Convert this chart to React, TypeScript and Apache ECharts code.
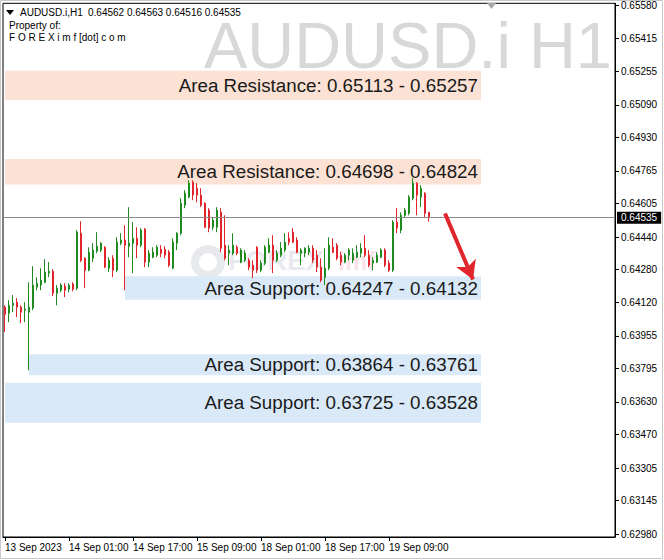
import React, { useEffect, useRef } from 'react';
import * as echarts from 'echarts';

// ---- data ----
const symbolTitle = 'AUDUSD.i,H1';
const watermark = 'AUDUSD.i H1';
const lastOHLC = [0.64562, 0.64563, 0.64516, 0.64535];
const lastPrice = 0.64535;

const xTickLabels = ['13 Sep 2023', '14 Sep 01:00', '14 Sep 17:00', '15 Sep 09:00', '18 Sep 01:00', '18 Sep 17:00', '19 Sep 09:00'];
const barsPerTick = 16;
const totalSlots = 153;

const yTickValues = [0.6558, 0.65415, 0.65255, 0.6509, 0.6493, 0.64765, 0.64605, 0.6444, 0.6428, 0.6412, 0.63955, 0.63795, 0.6363, 0.6347, 0.63305, 0.63145, 0.6298];

// [open, close, low, high] hourly, from 13 Sep 09:00
const candles = [
  [0.64096, 0.64061, 0.63973, 0.64105], [0.64066, 0.64105, 0.64022, 0.6413], [0.64105, 0.64115, 0.64071, 0.64155],
  [0.6412, 0.64096, 0.64047, 0.6414], [0.64096, 0.64071, 0.64017, 0.64105], [0.64081, 0.64086, 0.64022, 0.6412],
  [0.64071, 0.64096, 0.63786, 0.64218], [0.64091, 0.64204, 0.64081, 0.64297], [0.64194, 0.64213, 0.64179, 0.64243],
  [0.64204, 0.64228, 0.64179, 0.64287], [0.64218, 0.64268, 0.64213, 0.64331], [0.64263, 0.64272, 0.64243, 0.64317],
  [0.64272, 0.64164, 0.6415, 0.64282], [0.64164, 0.64189, 0.64105, 0.64204], [0.64179, 0.64204, 0.64169, 0.64213],
  [0.64199, 0.64179, 0.64145, 0.64213], [0.64184, 0.64204, 0.64169, 0.64213], [0.64209, 0.64184, 0.64174, 0.64218],
  [0.64189, 0.64464, 0.64179, 0.64474], [0.64459, 0.64326, 0.64317, 0.64518], [0.64336, 0.64277, 0.64189, 0.64341],
  [0.64277, 0.64366, 0.64272, 0.6439], [0.64336, 0.64376, 0.64317, 0.6441], [0.64371, 0.64395, 0.64361, 0.64464],
  [0.64376, 0.6441, 0.64366, 0.64415], [0.6439, 0.64292, 0.64287, 0.64395], [0.64287, 0.64326, 0.64268, 0.64341],
  [0.64336, 0.64277, 0.64243, 0.64351], [0.64277, 0.64415, 0.64268, 0.64439], [0.6441, 0.64425, 0.644, 0.64459],
  [0.64425, 0.644, 0.64179, 0.64498], [0.64395, 0.6441, 0.64341, 0.64587], [0.6441, 0.64434, 0.64263, 0.64513],
  [0.64434, 0.644, 0.64336, 0.64488], [0.644, 0.64474, 0.6439, 0.64484], [0.64479, 0.64317, 0.64292, 0.64484],
  [0.64317, 0.64361, 0.64292, 0.64376], [0.64341, 0.64366, 0.64336, 0.6439], [0.64351, 0.6439, 0.64341, 0.644],
  [0.6438, 0.64361, 0.64341, 0.644], [0.6438, 0.64351, 0.64336, 0.64395], [0.64366, 0.64302, 0.64292, 0.64376],
  [0.64287, 0.64415, 0.64282, 0.64434], [0.6441, 0.64459, 0.64376, 0.64464], [0.64459, 0.64606, 0.64449, 0.64631],
  [0.64596, 0.64655, 0.64582, 0.6467], [0.64636, 0.64705, 0.64631, 0.64719], [0.64709, 0.64646, 0.64621, 0.64719],
  [0.6468, 0.64646, 0.64611, 0.64705], [0.64646, 0.64596, 0.64587, 0.6468], [0.64606, 0.64488, 0.64484, 0.64611],
  [0.64572, 0.64484, 0.64464, 0.64582], [0.64488, 0.64523, 0.64474, 0.64538], [0.64488, 0.64572, 0.64464, 0.64587],
  [0.64562, 0.64385, 0.64366, 0.64582], [0.644, 0.64336, 0.64326, 0.64547], [0.64361, 0.64376, 0.64302, 0.644],
  [0.64361, 0.644, 0.64351, 0.64459], [0.6439, 0.64361, 0.64351, 0.644], [0.64317, 0.64376, 0.64312, 0.64385],
  [0.64326, 0.64361, 0.64317, 0.64376], [0.64326, 0.64292, 0.64277, 0.64336], [0.64302, 0.64277, 0.64238, 0.64326],
  [0.6439, 0.64277, 0.64263, 0.64395], [0.64277, 0.64312, 0.64268, 0.64326], [0.64312, 0.6439, 0.64302, 0.644],
  [0.64366, 0.644, 0.64361, 0.64434], [0.644, 0.64326, 0.64263, 0.64449], [0.64326, 0.64361, 0.64317, 0.64376],
  [0.64351, 0.64385, 0.64341, 0.64415], [0.64376, 0.64415, 0.64366, 0.64459], [0.64434, 0.64415, 0.644, 0.64464],
  [0.64464, 0.64415, 0.6441, 0.64484], [0.64425, 0.64366, 0.64361, 0.64439], [0.64361, 0.64376, 0.64302, 0.64385],
  [0.64361, 0.64385, 0.64341, 0.6439], [0.64366, 0.64385, 0.64351, 0.644], [0.64385, 0.64326, 0.64312, 0.644],
  [0.64351, 0.64292, 0.64268, 0.64376], [0.64292, 0.64228, 0.64218, 0.64336], [0.64243, 0.64287, 0.64204, 0.64385],
  [0.64287, 0.644, 0.64277, 0.64439], [0.6439, 0.64366, 0.64361, 0.64434], [0.644, 0.64336, 0.64326, 0.6441],
  [0.64351, 0.64317, 0.64302, 0.64366], [0.64317, 0.64351, 0.64312, 0.64361], [0.64351, 0.64376, 0.64326, 0.64385],
  [0.64326, 0.64361, 0.64312, 0.64385], [0.64341, 0.64366, 0.64336, 0.644], [0.64361, 0.64385, 0.64341, 0.6441],
  [0.64385, 0.64351, 0.64341, 0.64449], [0.64351, 0.64302, 0.64292, 0.64376], [0.64312, 0.64326, 0.64277, 0.64341],
  [0.64317, 0.64351, 0.64312, 0.64366], [0.64341, 0.64376, 0.64336, 0.64385], [0.64376, 0.64302, 0.64292, 0.64385],
  [0.64312, 0.64277, 0.64268, 0.64326], [0.64277, 0.64513, 0.64268, 0.64523], [0.64513, 0.64484, 0.64459, 0.64582],
  [0.64474, 0.64547, 0.64459, 0.64562], [0.64547, 0.64572, 0.64538, 0.64582], [0.64557, 0.64636, 0.64547, 0.64646],
  [0.64631, 0.64705, 0.64621, 0.64729], [0.64705, 0.64646, 0.64547, 0.64709], [0.64636, 0.6468, 0.64587, 0.64695],
  [0.64655, 0.64557, 0.64533, 0.6466], [0.64562, 0.64535, 0.64516, 0.64563],
];

// zones
const zoneLabels = ['Area Resistance', 'Area Resistance', 'Area Support', 'Area Support', 'Area Support'];
const zoneA = [0.65113, 0.64698, 0.64247, 0.63864, 0.63725];
const zoneB = [0.65257, 0.64824, 0.64132, 0.63761, 0.63528];
const zoneFrom = [0, 0, 30, 6, 0];
const zoneTo = [119, 119, 119, 119, 119];
const zoneKind = ['res', 'res', 'sup', 'sup', 'sup'];

// arrow: [bar, price]
const arrowStart = [109.5, 0.64556];
const arrowEnd = [117, 0.64232];

const GREEN = '#1f8a1f';
const RED = '#e0262c';

export default function App() {
  const ref = useRef<HTMLDivElement>(null);
  useEffect(() => {
    if (!ref.current) return;
    const chart = echarts.init(ref.current, undefined, { renderer: 'svg' });
    const categories = Array.from({ length: totalSlots }, (_, i) => String(i));

    const areaData = zoneLabels.map((name, k) => {
      const hi = Math.max(zoneA[k], zoneB[k]);
      const lo = Math.min(zoneA[k], zoneB[k]);
      return [
        {
          xAxis: zoneFrom[k],
          yAxis: hi,
          itemStyle: { color: zoneKind[k] === 'res' ? '#fce2d4' : '#d9e9f8' },
          label: {
            show: true,
            position: 'insideRight',
            distance: 3,
            formatter: `${name}: ${zoneA[k].toFixed(5)} - ${zoneB[k].toFixed(5)}`,
            color: '#1a1a1a',
            fontSize: 18.8,
            fontFamily: 'Liberation Sans',
          },
        },
        { xAxis: zoneTo[k], yAxis: lo },
      ];
    });

    const tickShown = (i: number) => i % barsPerTick === 0 && i / barsPerTick < xTickLabels.length;

    const option: any = {
      animation: false,
      backgroundColor: '#ffffff',
      grid: { left: 3, top: 3, width: 612, height: 534, show: true, borderColor: '#000', borderWidth: 1, backgroundColor: 'transparent' },
      xAxis: {
        type: 'category',
        data: categories,
        boundaryGap: true,
        axisLine: { show: true, lineStyle: { color: '#000' } },
        axisTick: { show: true, alignWithLabel: true, length: 4, interval: tickShown, lineStyle: { color: '#000' } },
        axisLabel: {
          show: true,
          interval: tickShown,
          formatter: (_v: string, i: number) => xTickLabels[i / barsPerTick] || '',
          align: 'left',
          margin: 5,
          color: '#000',
          fontSize: 10,
          fontFamily: 'Liberation Sans',
        },
        splitLine: { show: false },
      },
      yAxis: {
        type: 'value',
        position: 'right',
        min: 0.629667,
        max: 0.655883,
        scale: true,
        axisLine: { show: true, lineStyle: { color: '#000' } },
        axisTick: { show: true, length: 4, customValues: yTickValues, lineStyle: { color: '#000' } },
        axisLabel: {
          show: true,
          customValues: yTickValues,
          formatter: (v: number) => v.toFixed(5),
          margin: 6,
          color: '#000',
          fontSize: 10,
          fontFamily: 'Liberation Sans',
        },
        splitLine: { show: false },
      },
      series: [
        {
          type: 'line',
          data: [],
          z: 1,
          silent: true,
          markArea: { silent: true, data: areaData },
        },
        {
          type: 'candlestick',
          z: 3,
          data: candles,
          barWidth: 2,
          itemStyle: { color: GREEN, color0: RED, borderColor: GREEN, borderColor0: RED, borderWidth: 1 },
        },
        {
          type: 'line',
          data: [],
          z: 4,
          silent: true,
          markLine: {
            silent: true,
            precision: 5,
            symbol: ['none', 'none'],
            data: [
              {
                yAxis: lastPrice,
                lineStyle: { color: '#8a8a8a', width: 1, type: 'solid' },
                label: {
                  show: true,
                  position: 'end',
                  distance: 2,
                  formatter: lastPrice.toFixed(5),
                  backgroundColor: '#000',
                  color: '#fff',
                  padding: [1, 4, 1, 4],
                  fontSize: 10,
                  fontFamily: 'Liberation Sans',
                },
              },
              [
                {
                  coord: arrowStart,
                  symbol: 'none',
                  lineStyle: { color: RED, width: 4, type: 'solid' },
                  label: { show: false },
                },
                { coord: arrowEnd, symbol: 'arrow', symbolSize: [16, 18] },
              ],
            ],
          },
        },
      ],
      graphic: [
        {
          type: 'text',
          right: 52,
          top: 13,
          z: 0,
          style: { text: watermark, fill: '#d8d8d8', fontSize: 65, lineHeight: 46, fontFamily: 'Liberation Sans' },
        },
        {
          type: 'polygon',
          shape: { points: [[6, 10], [14, 10], [10, 15]] },
          style: { fill: '#000' },
        },
        {
          type: 'text',
          x: 20,
          y: 7,
          style: { text: symbolTitle, fill: '#000', fontSize: 10, fontFamily: "'Liberation Sans Narrow', 'Liberation Sans'" },
        },
        {
          type: 'text',
          x: 88,
          y: 7,
          style: { text: lastOHLC.map((v) => v.toFixed(5)).join(' '), fill: '#000', fontSize: 10, fontFamily: 'Liberation Sans' },
        },
        { type: 'text', x: 9, y: 20, style: { text: 'Property of:', fill: '#000', fontSize: 10, fontFamily: 'Liberation Sans' } },
        { type: 'text', x: 9, y: 32, style: { text: 'F O R E X i m f [dot] c o m', fill: '#000', fontSize: 10, fontFamily: 'Liberation Sans' } },
        {
          type: 'polygon',
          shape: { points: [[487, 3], [496, 3], [491.5, 9]] },
          style: { fill: '#a8a8a8' },
        },
        {
          type: 'group',
          z: 1,
          children: [
            { type: 'ring', shape: { cx: 208, cy: 262, r: 17, r0: 9 }, style: { fill: 'rgba(150,155,170,0.22)' } },
            { type: 'text', x: 228, y: 246, style: { text: 'FOREX', fill: 'rgba(150,160,185,0.22)', fontSize: 28, fontWeight: 'bold', fontFamily: 'Liberation Sans' } },
            { type: 'text', x: 338, y: 248, style: { text: 'imf', fill: 'rgba(235,140,175,0.25)', fontSize: 25, fontWeight: 'bold', fontFamily: 'Liberation Sans' } },
          ],
        },
        {
          type: 'rect',
          shape: { x: 0.5, y: 0.5, width: 662, height: 558 },
          style: { fill: 'none', stroke: '#c8c8c8', lineWidth: 1 },
        },
      ],
    };
    chart.setOption(option);
    return () => chart.dispose();
  }, []);
  return <div ref={ref} style={{ position: 'fixed', left: 0, top: 0, width: 664, height: 560 }} />;
}
